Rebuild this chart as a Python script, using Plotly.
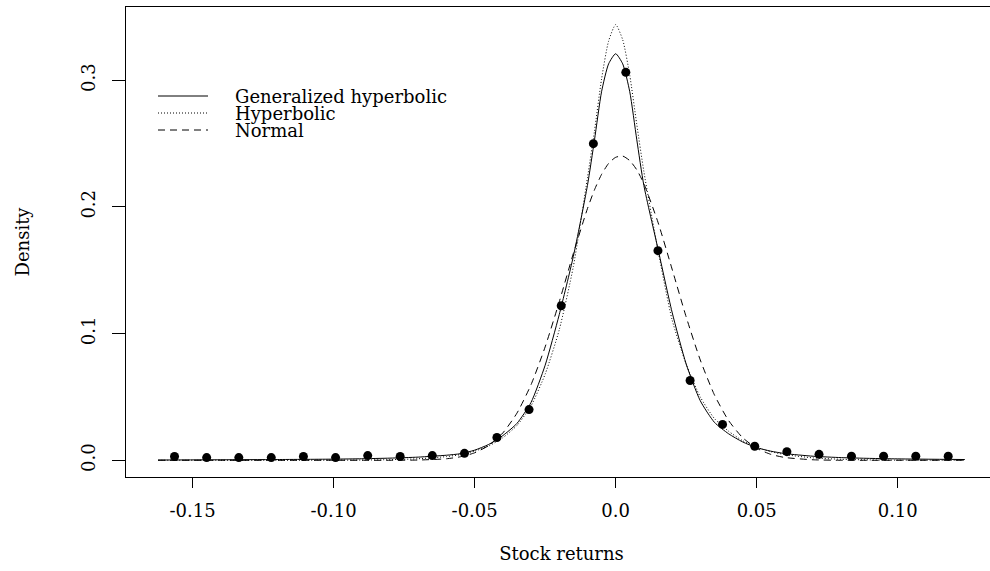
import plotly.graph_objects as go

# Histogram-style empirical points (bin midpoints, relative frequency)
obs_x = [-0.1564, -0.1450, -0.1336, -0.1221, -0.1107, -0.0993, -0.0879, -0.0764,
         -0.0650, -0.0536, -0.0421, -0.0307, -0.0193, -0.0079, 0.0036, 0.0150,
         0.0264, 0.0379, 0.0493, 0.0607, 0.0721, 0.0836, 0.0950, 0.1064, 0.1179]
obs_y = [0.0030, 0.0021, 0.0021, 0.0021, 0.0030, 0.0021, 0.0037, 0.0030,
         0.0037, 0.0055, 0.0180, 0.0400, 0.1220, 0.2500, 0.3063, 0.1655,
         0.0630, 0.0283, 0.0111, 0.0068, 0.0047, 0.0032, 0.0032, 0.0032, 0.0032]

# Fitted density curves
curve_x = [-0.1622, -0.14, -0.12, -0.10, -0.09, -0.08, -0.07, -0.06, -0.055, -0.05,
           -0.045, -0.04, -0.035, -0.03, -0.025, -0.02, -0.015, -0.01, -0.0075, -0.005,
           -0.0025, 0.0, 0.0025, 0.005, 0.0075, 0.01, 0.015, 0.02, 0.025, 0.03,
           0.035, 0.04, 0.045, 0.05, 0.055, 0.06, 0.07, 0.08, 0.09, 0.10, 0.1238]
gh_y = [0.0002, 0.0004, 0.0006, 0.0009, 0.0012, 0.0017, 0.0025, 0.0040, 0.0052, 0.0080,
        0.0125, 0.0195, 0.0291, 0.0457, 0.0750, 0.1150, 0.1610, 0.2170, 0.2530, 0.2910,
        0.3130, 0.3210, 0.3130, 0.2910, 0.2530, 0.2170, 0.1670, 0.1170, 0.0760, 0.0470,
        0.0300, 0.0210, 0.0145, 0.0100, 0.0072, 0.0053, 0.0032, 0.0021, 0.0015, 0.0011, 0.0006]
hyp_y = [0.0000, 0.0000, 0.0000, 0.0001, 0.0002, 0.0005, 0.0012, 0.0029, 0.0045, 0.0072,
         0.0113, 0.0178, 0.0275, 0.0430, 0.0680, 0.1030, 0.1530, 0.2230, 0.2600, 0.3010,
         0.3310, 0.3440, 0.3320, 0.3040, 0.2650, 0.2280, 0.1660, 0.1110, 0.0760, 0.0500,
         0.0330, 0.0230, 0.0155, 0.0103, 0.0068, 0.0045, 0.0019, 0.0008, 0.0003, 0.0001, 0.0000]
norm_y = [0.0000, 0.0000, 0.0000, 0.0000, 0.0000, 0.0000, 0.0002, 0.0012, 0.0028, 0.0059,
          0.0117, 0.0216, 0.0372, 0.0597, 0.0895, 0.1251, 0.1633, 0.1987, 0.2136, 0.2257,
          0.2344, 0.2392, 0.2402, 0.2366, 0.2293, 0.2184, 0.1880, 0.1510, 0.1132, 0.0792,
          0.0517, 0.0315, 0.0179, 0.0095, 0.0047, 0.0022, 0.0004, 0.0000, 0.0000, 0.0000, 0.0000]

x_tickvals = [-0.15, -0.10, -0.05, 0.0, 0.05, 0.10]
x_ticktext = ["-0.15", "-0.10", "-0.05", "0.0", "0.05", "0.10"]
y_tickvals = [0.0, 0.1, 0.2, 0.3]
y_ticktext = ["0.0", "0.1", "0.2", "0.3"]

legend_names = ["Generalized hyperbolic", "Hyperbolic", "Normal"]
legend_dashes = ["solid", "1px,2px", "7px,5px"]

FONT = "DejaVu Serif"
FS = 18

fig = go.Figure()
fig.add_trace(go.Scatter(x=curve_x, y=gh_y, mode="lines", line=dict(color="black", width=1, shape="spline", smoothing=0.6), name=legend_names[0], showlegend=False))
fig.add_trace(go.Scatter(x=curve_x, y=hyp_y, mode="lines", line=dict(color="black", width=1, dash=legend_dashes[1], shape="spline", smoothing=0.6), name=legend_names[1], showlegend=False))
fig.add_trace(go.Scatter(x=curve_x, y=norm_y, mode="lines", line=dict(color="black", width=1, dash=legend_dashes[2], shape="spline", smoothing=0.6), name=legend_names[2], showlegend=False))
fig.add_trace(go.Scatter(x=obs_x, y=obs_y, mode="markers", marker=dict(color="black", size=9), showlegend=False))

# The original page is cropped on the right: the plot box runs a little past the window edge
FIG_W, FIG_H = 998, 571
PL, PW, PT, PH = 126, 871, 7, 470
leg_y0 = 96
for i, (nm, dsh) in enumerate(zip(legend_names, legend_dashes)):
    yy = leg_y0 + 17 * i
    fig.add_shape(type="line", xref="paper", yref="paper",
                  x0=(158 - PL) / PW, x1=(208 - PL) / PW,
                  y0=1 - (yy - PT) / PH, y1=1 - (yy - PT) / PH,
                  line=dict(color="black", width=1, dash=dsh))
    fig.add_annotation(text=nm, xref="paper", yref="paper",
                       x=(233 - PL) / PW, y=1 - (yy - PT) / PH,
                       xanchor="left", yanchor="middle", showarrow=False,
                       font=dict(family=FONT, size=FS, color="black"))

fig.update_layout(
    width=FIG_W, height=FIG_H, autosize=False,
    margin=dict(l=PL, r=FIG_W - PL - PW, t=PT, b=FIG_H - PT - PH, autoexpand=False),
    paper_bgcolor="white", plot_bgcolor="white",
    font=dict(family=FONT, size=FS, color="black"),
    showlegend=False,
)
fig.update_xaxes(range=[-0.1736, 0.1352], showgrid=False, zeroline=False, automargin=False,
                 showline=True, linecolor="black", linewidth=1, mirror=True,
                 ticks="outside", ticklen=10, tickcolor="black",
                 tickvals=x_tickvals, ticktext=x_ticktext, ticklabelstandoff=7,
                 title=dict(text="Stock returns", standoff=27, font=dict(family=FONT, size=FS)))
fig.update_yaxes(range=[-0.0132, 0.3579], showgrid=False, zeroline=False, automargin=False,
                 showline=True, linecolor="black", linewidth=1, mirror=True,
                 ticks="outside", ticklen=13, tickcolor="black",
                 tickvals=y_tickvals, ticktext=y_ticktext, tickangle=-90, ticklabelstandoff=10,
                 title=dict(text="Density", standoff=43, font=dict(family=FONT, size=FS)))

fig.write_html("out.html", config={"displayModeBar": False, "responsive": False},
               default_width=f"{FIG_W}px", default_height=f"{FIG_H}px")

# remove the default page margin so the figure sits at the window's top-left corner
with open("out.html", "r", encoding="utf-8") as f:
    html = f.read()
html = html.replace("<head>", "<head><style>html,body{margin:0;padding:0;overflow:hidden;}</style>", 1)
with open("out.html", "w", encoding="utf-8") as f:
    f.write(html)
